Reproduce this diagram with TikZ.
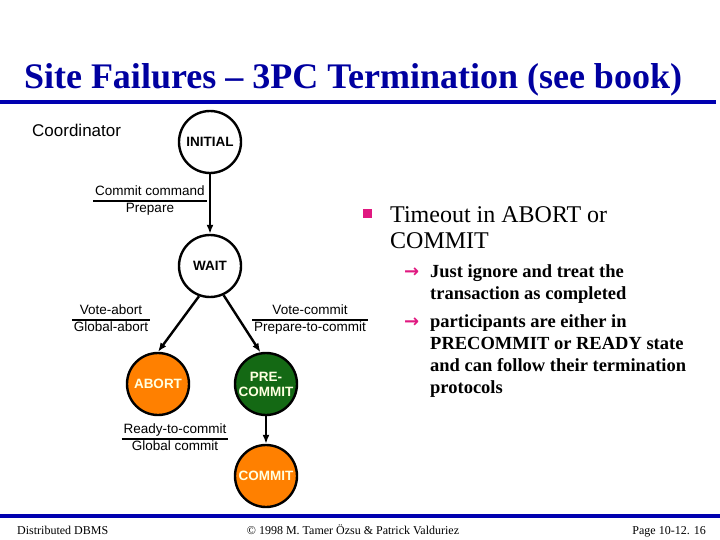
\documentclass[tikz,border=0pt]{standalone}
\usepackage{fontspec}
\setmainfont{Liberation Serif}
\setsansfont{Liberation Sans}
\newfontfamily\arrowfont{DejaVu Sans}
\usepackage{xcolor}
\usetikzlibrary{arrows.meta,positioning}
\definecolor{titleblue}{RGB}{0,0,160}
\definecolor{ruleblue}{RGB}{0,0,176}
\definecolor{stateorange}{RGB}{255,128,0}
\definecolor{stategreen}{RGB}{20,105,20}
\definecolor{statetext}{RGB}{255,255,225}
\definecolor{bulletpink}{RGB}{224,24,128}
\newcommand{\translabel}[2]{{\setlength{\tabcolsep}{2pt}\setlength{\arrayrulewidth}{1.3pt}%
  \begin{tabular}{c}#1\\\hline #2\end{tabular}}}

\begin{document}
\begin{tikzpicture}[
  x=1pt,y=-1pt,
  state/.style={circle,draw,line width=2.4pt,minimum size=62pt,inner sep=0pt,
                align=center,font=\sffamily\bfseries\fontsize{13.5}{15}\selectfont},
  hot/.style={state,fill=stateorange,text=statetext},
  safe/.style={state,fill=stategreen,text=statetext},
  trans/.style={inner sep=0pt,font=\sffamily\fontsize{13.5}{16}\selectfont},
  arr/.style={-{Latex[length=9pt,width=7pt]},line width=2.4pt},
  band/.style={fill=ruleblue},
  maintext/.style={anchor=base west,inner sep=0pt,align=left,font=\fontsize{24}{26}\selectfont},
  subtext/.style={anchor=base west,inner sep=0pt,align=left,font=\bfseries\fontsize{18.5}{22}\selectfont},
  subarrow/.style={anchor=base west,inner sep=0pt,text=bulletpink,font=\arrowfont\bfseries\fontsize{18}{20}\selectfont},
  footer/.style={inner sep=0pt,font=\fontsize{12}{14}\selectfont}
]
\useasboundingbox (0,0) rectangle (720,540);

% title and rules
\node[anchor=base,inner sep=0pt,text=titleblue,font=\bfseries\fontsize{36}{40}\selectfont]
  (title) at (353,89) {Site Failures -- 3PC Termination (see book)};
\fill[band] (0,100) rectangle (716,104);
\fill[band] (0,513.5) rectangle (720,517.5);

% coordinator state machine
\node[anchor=west,inner sep=0pt,font=\sffamily\fontsize{17}{20}\selectfont] (coord) at (32,130) {Coordinator};
\node[state] (initial) at (210,142) {INITIAL};
\node[state] (wait) at (210,266) {WAIT};
\node[hot] (abort) at (158,384) {ABORT};
\node[safe] (precommit) at (266,384) {PRE-\\COMMIT};
\node[hot] (commit) at (266,476) {COMMIT};

\draw[arr] (initial) -- (wait);
\draw[arr] (wait.250) -- (abort.north);
\draw[arr] (wait.295) -- (precommit.100);
\draw[arr] (precommit) -- (commit);

\node[trans] (t1) at (150,201) {\translabel{Commit command}{Prepare}};
\node[trans] (t2) at (111,320) {\translabel{Vote-abort}{Global-abort}};
\node[trans] (t3) at (310,320) {\translabel{Vote-commit}{Prepare-to-commit}};
\node[trans] (t4) at (175,439) {\translabel{Ready-to-commit}{Global commit}};

% right hand text (base = last line)
\fill[bulletpink] (363,209) rectangle (372,218);
\node[maintext] (timeout) at (390,248) {Timeout in ABORT or\\COMMIT};
\node[subarrow] (a1) at (404,277) {→};
\node[subtext] (ignore) at (430,299) {Just ignore and treat the\\transaction as completed};
\node[subarrow] (a2) at (404,327) {→};
\node[subtext] (part) at (430,393) {participants are either in\\PRECOMMIT or READY state\\and can follow their termination\\protocols};

% footer
\node[footer,anchor=base west] (dbms) at (17,534) {Distributed DBMS};
\node[footer,anchor=base] (copy) at (353,534) {© 1998 M. Tamer Özsu \& Patrick Valduriez};
\node[footer,anchor=base east] (page) at (706,534) {Page 10-12. 16};
\end{tikzpicture}
\end{document}
